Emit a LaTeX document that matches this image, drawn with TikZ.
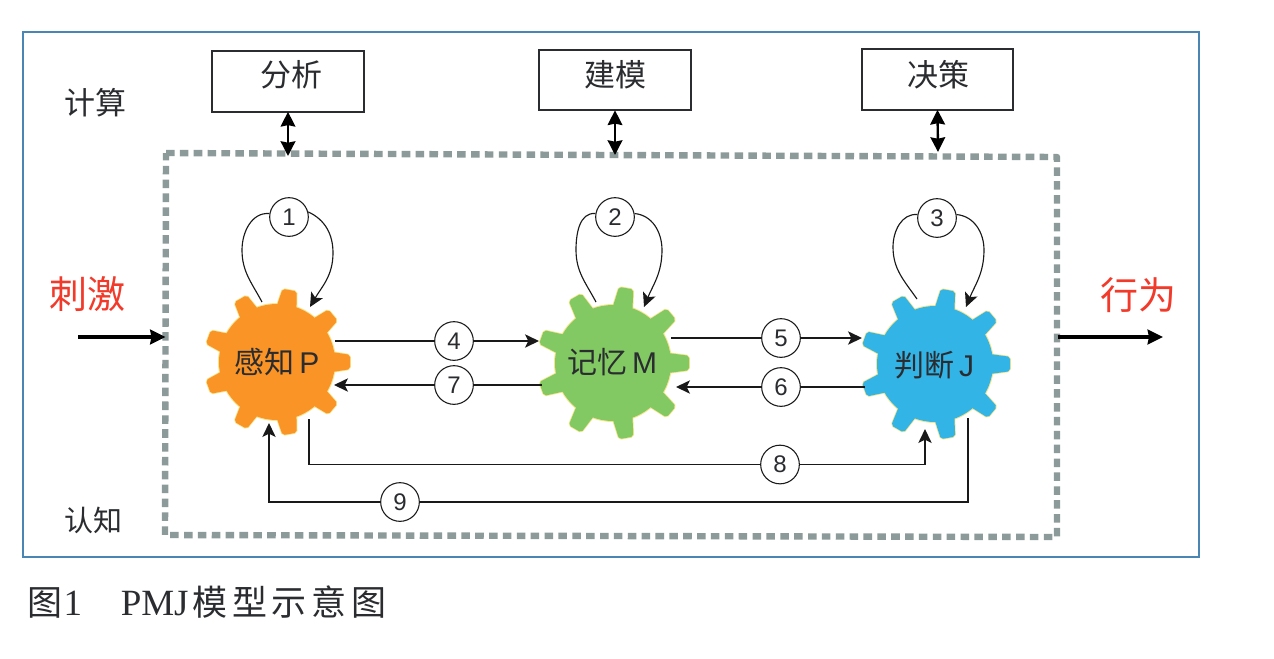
\documentclass[tikz,border=0pt]{standalone}
\usepackage{fontspec}
\setmainfont{Liberation Sans}
\newfontfamily\cjk{Noto Sans CJK SC}
\newfontfamily\serifl{Liberation Serif}
\usetikzlibrary{arrows.meta}
\definecolor{frameblue}{HTML}{4A86B4}
\definecolor{dashgray}{HTML}{8C9B99}
\definecolor{inkdark}{HTML}{2A2C30}
\definecolor{redtxt}{HTML}{F23A2B}
\definecolor{gearO}{HTML}{FA9426}
\definecolor{gearG}{HTML}{82C963}
\definecolor{gearB}{HTML}{33B4E6}
\definecolor{halo}{HTML}{F7E58C}
\newcommand{\fpx}[1]{\fontsize{\fpeval{#1*0.75}}{\fpeval{#1*0.9}}\selectfont}
\newcommand{\gearshape}[6]{% x y body tip colour halo
  \draw[#6,line width=1.5pt,fill=#5,line join=round] (#1,#2) circle[radius=#3];
  \foreach \a in {0,40,...,320}{
    \draw[#6,line width=1.2pt,line join=round,fill=#5,shift={(#1,#2)},rotate=\a]
      (#3-3,-10) -- (#4-2,-7.5) -- (#4,-5) -- (#4,5) -- (#4-2,7.5) -- (#3-3,10) -- cycle;
  }
  \fill[#5] (#1,#2) circle[radius=#3];
  \foreach \a in {0,40,...,320}{
    \fill[#5,shift={(#1,#2)},rotate=\a]
      (#3-3,-10) -- (#4-2,-7.5) -- (#4,-5) -- (#4,5) -- (#4-2,7.5) -- (#3-3,10) -- cycle;
  }
}
\tikzset{
  x=0.75pt,y=-0.75pt,
  tipa/.style={-{Stealth[length=10.5pt,width=10pt,inset=2.5pt]}},
  conn/.style={draw=black!90,line width=1.1pt,tipa},
  plain/.style={draw=black!90,line width=1.1pt},
  num/.style={circle,draw=black!90,line width=0.8pt,minimum size=29pt,inner sep=0pt,fill=white,font=\fpx{24},text=inkdark},
  topbox/.style={rectangle,draw=inkdark,line width=1.3pt,minimum width=113.5pt,minimum height=45.5pt,inner sep=0pt,outer sep=0pt,fill=white},
  cjktxt/.style={font=\cjk\fpx{31},text=inkdark,inner sep=0pt},
  redt/.style={font=\cjk\fpx{38},text=redtxt,inner sep=0pt},
  gearlab/.style={font=\fpx{30},text=inkdark,inner sep=0pt},
  dbl/.style={line width=1.8pt,draw=black,{Stealth[length=11pt,width=11pt,inset=1pt]}-{Stealth[length=11pt,width=11pt,inset=1pt]}},
  heavy/.style={line width=2.4pt,draw=black,-{Stealth[length=11.5pt,width=11pt,inset=1pt]}},
}
\begin{document}
\begin{tikzpicture}
\useasboundingbox (0,0) rectangle (1274,658);
\fill[white] (0,0) rectangle (1274,658);
\draw[frameblue,line width=0.9pt] (23,32) rectangle (1199,557);

% dashed cognition frame
\node[rectangle,minimum width=669pt,minimum height=286.5pt,inner sep=0pt,outer sep=0pt] (frame) at (611.5,346) {};
\coordinate (fa) at (166,153); \coordinate (fb) at (1057,157);
\coordinate (fc) at (1057,537); \coordinate (fd) at (165,535);
\draw[draw=dashgray,line width=4.8pt,dash pattern=on 6.4pt off 4pt,line join=round] (fa) -- (fb) -- (fc) -- (fd) -- cycle;

% gears
\gearshape{277}{362}{58}{73}{gearO}{halo}
\gearshape{613}{363}{58}{76}{gearG}{halo}
\gearshape{935}{364}{58}{75}{gearB}{halo}
\node[gearlab] (gP) at (277,362) {{\cjk 感知}\,P};
\node[gearlab] (gM) at (612,362) {{\cjk 记忆}\,M};
\node[gearlab] (gJ) at (934,365) {{\cjk 判断}\,J};

% boxes
\node[topbox] (bA) at (288,81.5) {};
\node[topbox] (bB) at (615,80) {};
\node[topbox] (bC) at (937.5,79.5) {};
\node[cjktxt] (tA) at (291,75) {分析};
\node[cjktxt] (tB) at (615,75) {建模};
\node[cjktxt] (tC) at (938,75) {决策};
\coordinate (ea) at (288,156); \coordinate (eb) at (615,155); \coordinate (ec) at (938,152);
\draw[dbl] (bA.south) -- (ea);
\draw[dbl] (bB.south) -- (eb);
\draw[dbl] (bC.south) -- (ec);

% side labels
\node[cjktxt] (tCalc) at (95,103) {计算};
\node[cjktxt,font=\cjk\fpx{29}] (tCog) at (93,520) {认知};
\node[redt] (tIn) at (87,294) {刺激};
\node[redt] (tOut) at (1138,295) {行为};

% numbered circles
\node[num] (c1) at (289,217) {1};
\node[num] (c2) at (615,217) {2};
\node[num] (c3) at (937,218) {3};
\node[num] (c4) at (454,341) {4};
\node[num] (c5) at (781,338) {5};
\node[num] (c6) at (781,387) {6};
\node[num] (c7) at (454,385) {7};
\node[num] (c8) at (780,464.5) {8};
\node[num] (c9) at (400,502) {9};

% free ends
\coordinate (l1a) at (242,250); \coordinate (l1b) at (262,302);
\coordinate (l1c) at (333,253); \coordinate (l1d) at (310,307);
\coordinate (l2a) at (576,250); \coordinate (l2b) at (596,302);
\coordinate (l2c) at (662,250); \coordinate (l2d) at (644,307);
\coordinate (l3a) at (893,247); \coordinate (l3b) at (917,299);
\coordinate (l3c) at (984,250); \coordinate (l3d) at (966,307);
\coordinate (p4) at (335,341); \coordinate (m4) at (539,341);
\coordinate (m7) at (542,385); \coordinate (p7) at (334,385);
\coordinate (m5) at (671,338); \coordinate (j5) at (862,338);
\coordinate (j6) at (865,387); \coordinate (m6) at (676,387);
\coordinate (p8) at (309,419);
\coordinate (j8) at (925,429);
\coordinate (j9) at (968,418);
\coordinate (p9) at (269,423);
\coordinate (inS) at (78,337); \coordinate (outE) at (1163,337);

% self loops
\draw[plain,line width=0.85pt] (c1.170) to[out=175,in=90] (l1a) to[out=-90,in=118] (l1b);
\draw[conn,line width=0.85pt] (c1.15) to[out=-25,in=90] (l1c) to[out=-90,in=60] (l1d);
\draw[plain,line width=0.85pt] (c2.170) to[out=175,in=90] (l2a) to[out=-90,in=118] (l2b);
\draw[conn,line width=0.85pt] (c2.10) to[out=-5,in=90] (l2c) to[out=-90,in=68] (l2d);
\draw[plain,line width=0.85pt] (c3.170) to[out=175,in=90] (l3a) to[out=-90,in=125] (l3b);
\draw[conn,line width=0.85pt] (c3.10) to[out=-5,in=90] (l3c) to[out=-90,in=68] (l3d);

% links
\draw[plain] (p4) -- (c4.west);
\draw[conn] (c4.east) -- (m4);
\draw[plain] (m7) -- (c7.east);
\draw[conn] (c7.west) -- (p7);
\draw[plain] (m5) -- (c5.west);
\draw[conn] (c5.east) -- (j5);
\draw[plain] (j6) -- (c6.east);
\draw[conn] (c6.west) -- (m6);
\draw[plain] (p8) |- (c8.west);
\draw[conn] (c8.east) -| (j8);
\draw[plain] (j9) |- (c9.east);
\draw[conn] (c9.west) -| (p9);
\draw[heavy] (inS) -- (frame.west |- inS);
\draw[heavy] (frame.east |- outE) -- (outE);

% caption
\node[anchor=west,inner sep=0pt,text=inkdark,font=\serifl\fpx{37}] (cap) at (27,602)
  {{\cjk\fpx{35}图}\hspace{1pt}1\hspace{29pt}PMJ\hspace{3pt}{\cjk\fpx{35}模\hspace{3.5pt}型\hspace{3.5pt}示\hspace{3.5pt}意\hspace{3.5pt}图}};
\end{tikzpicture}
\end{document}
